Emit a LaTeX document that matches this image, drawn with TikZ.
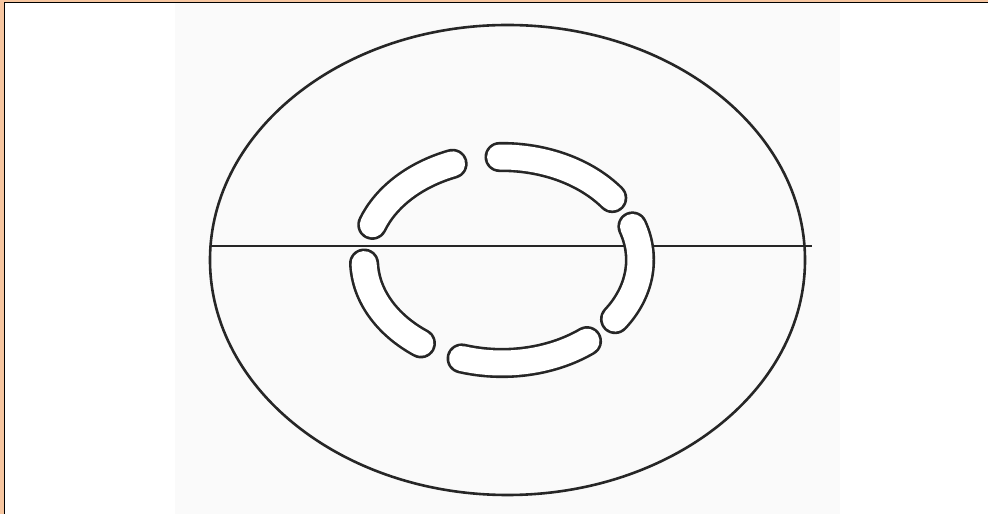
\documentclass[tikz,border=0pt]{standalone}
\definecolor{frameorange}{RGB}{247,198,160}
\definecolor{paper}{RGB}{250,250,250}
\tikzset{
  outline/.style={draw=black!85, line width=2.6pt},
  slot/.style={draw=black!85, line width=2.6pt, double=white, double distance=25pt, line cap=round},
  axisline/.style={draw=black!85, line width=1.6pt}
}
\begin{document}
\begin{tikzpicture}[x=1pt,y=1pt]
\useasboundingbox (0,0) rectangle (988,514);
\fill[white] (0,0) rectangle (988,514);
% light paper region
\fill[paper] (175,0) rectangle (840,512);
% frame (top and left)
\fill[frameorange] (0,0) rectangle (3.5,514);
\fill[frameorange] (0,512) rectangle (988,514);
\draw[black, line width=1.6pt] (4.3,0) -- (4.3,511.5) -- (988,511.5);
% outer ellipse
\coordinate (C) at (507.5,254);
\draw[outline] (C) ellipse [x radius=297.5, y radius=235];
% horizontal line
\coordinate (L) at (210,268);
\coordinate (R) at (812,268);
\draw[axisline] (L) -- (R);
% ring of slots
\coordinate (K) at (502,254);
\foreach \a/\b in {111/160, 37/91, -35/19, -107/-52, 182/234}{
  \draw[slot] (K) ++ (\a:138 and 103) arc[start angle=\a, end angle=\b, x radius=138, y radius=103];
}
\end{tikzpicture}
\end{document}
